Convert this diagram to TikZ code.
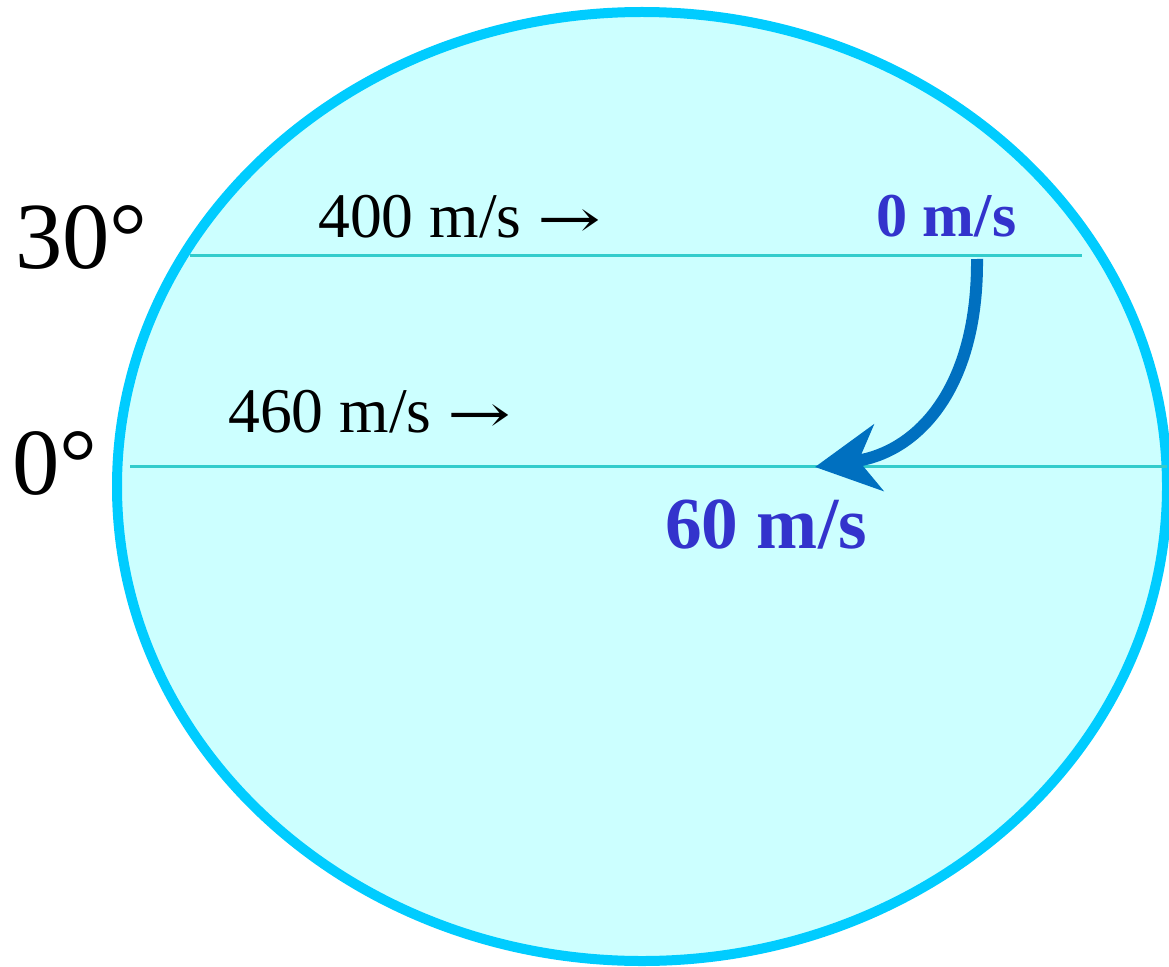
\documentclass[tikz,border=0pt]{standalone}
\usepackage{fontspec}
\setmainfont{Liberation Serif}
\newfontfamily\arrowfont{DejaVu Serif}
\usetikzlibrary{arrows.meta}
\definecolor{globefill}{HTML}{CCFFFF}
\definecolor{globeedge}{HTML}{00CCFF}
\definecolor{latline}{HTML}{33CCCC}
\definecolor{flowblue}{HTML}{0070C0}
\definecolor{textblue}{HTML}{3333CC}
\newcommand{\longarr}{\scalebox{1.3}[0.9]{\arrowfont\fontsize{44}{50}\selectfont →}}
\begin{document}
\begin{tikzpicture}[x=0.75pt,y=-0.75pt,
  lbl/.style={inner sep=0pt,anchor=base west},
  latitude/.style={draw=latline,line width=2.25pt},
  speed/.style={lbl,font=\fontsize{47.7}{50}\selectfont},
  bluespeed/.style={lbl,text=textblue,font=\bfseries\fontsize{46.7}{50}\selectfont},
  deg/.style={lbl,font=\fontsize{71}{75}\selectfont}]
\useasboundingbox (0,0) rectangle (1169,966);
\clip (0,0) rectangle (1169,966);
\draw[fill=globefill,draw=globeedge,line width=7.5pt] (642,486.5) ellipse [x radius=525, y radius=474.5];
\coordinate (l30a) at (190,255);
\coordinate (l30b) at (1082,255);
\coordinate (l0a) at (130,466);
\coordinate (l0b) at (1167,466);
\draw[latitude] (l30a) -- (l30b);
\draw[latitude] (l0a) -- (l0b);
\node[deg] (d30) at (15,268) {30°};
\node[deg] (d0) at (12,494) {0°};
\node[speed] (v400) at (318,238) {400 m/s \longarr};
\node[speed] (v460) at (228,432) {460 m/s \longarr};
\node[bluespeed] (v0) at (876,237) {0 m/s};
\node[lbl,text=textblue,font=\bfseries\fontsize{55}{60}\selectfont] (v60) at (665,548) {60 m/s};
\coordinate (s) at (977,259);
\coordinate (t) at (815,467);
\draw[draw=flowblue,line width=9pt,-{Stealth[length=48pt,width=50pt,inset=15pt,fill=flowblue]}]
  (s) .. controls (978,388) and (918,452) .. (t);
\end{tikzpicture}
\end{document}
